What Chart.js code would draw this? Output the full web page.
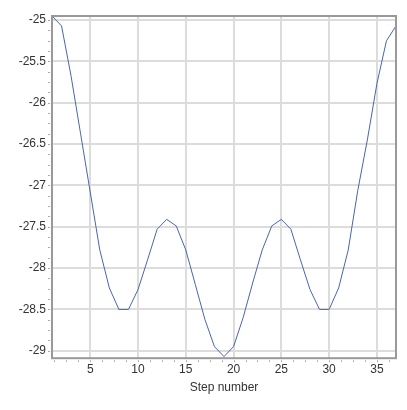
<!DOCTYPE html>
<html lang="en">
<head>
    <meta charset="UTF-8">
    <title>Step chart</title>
    <script src="https://cdn.jsdelivr.net/npm/chart.js@4.4.1/dist/chart.umd.min.js"></script>
    <style>
        * {
            margin: 0;
            padding: 0;
            box-sizing: border-box;
        }

        body {
            background: white;
        }

        .chart-container {
            width: 407px;
            height: 410px;
        }
    </style>
</head>
<body>
    <div class="chart-container">
        <canvas id="stepChart"></canvas>
    </div>

    <script>
        // Values
        const steps = [1, 2, 3, 4, 5, 6, 7, 8, 9, 10, 11, 12, 13, 14, 15, 16, 17, 18, 19,
            20, 21, 22, 23, 24, 25, 26, 27, 28, 29, 30, 31, 32, 33, 34, 35, 36, 37];
        const values = [-24.95, -25.07, -25.68, -26.38, -27.08, -27.78, -28.24, -28.5, -28.5,
            -28.26, -27.9, -27.53, -27.41, -27.49, -27.78, -28.2, -28.62, -28.95, -29.07,
            -28.95, -28.6, -28.18, -27.78, -27.49, -27.41, -27.53, -27.9, -28.26, -28.5,
            -28.5, -28.24, -27.78, -27.06, -26.45, -25.77, -25.25, -25.07];
        const xTicks = [5, 10, 15, 20, 25, 30, 35];
        const yTicks = [-29, -28.5, -28, -27.5, -27, -26.5, -26, -25.5, -25];

        const axisColor = '#999999';
        const gridColor = '#dcdcdc';
        const textColor = '#333333';

        // frame round the plot area and the small minor ticks outside it
        const framePlugin = {
            id: 'frame',
            afterDraw(chart) {
                const ctx = chart.ctx;
                const area = chart.chartArea;
                const xs = chart.scales.x;
                const ys = chart.scales.y;
                ctx.save();
                ctx.fillStyle = '#aaaaaa';
                for (let v = 1.25; v < xs.max; v += 1.25) {
                    const px = Math.round(xs.getPixelForValue(v));
                    ctx.fillRect(px, area.bottom + 2, 1, 2);
                }
                for (let v = -29; v <= ys.max; v += 0.125) {
                    const py = Math.round(ys.getPixelForValue(v));
                    ctx.fillRect(area.left - 4, py, 2, 1);
                }
                ctx.strokeStyle = axisColor;
                ctx.lineWidth = 2;
                ctx.strokeRect(area.left, area.top, area.right - area.left, area.bottom - area.top);
                ctx.restore();
            }
        };

        new Chart(document.getElementById('stepChart'), {
            type: 'line',
            data: {
                datasets: [{
                    data: steps.map((s, i) => ({ x: s, y: values[i] })),
                    borderColor: 'rgb(72, 102, 172)',
                    borderWidth: 1,
                    pointRadius: 0,
                    tension: 0,
                    clip: false
                }]
            },
            options: {
                responsive: true,
                maintainAspectRatio: false,
                animation: false,
                layout: {
                    padding: { top: 16, right: 11, bottom: 15, left: 0 }
                },
                plugins: {
                    legend: { display: false },
                    tooltip: { enabled: false }
                },
                scales: {
                    x: {
                        type: 'linear',
                        min: 1,
                        max: 37,
                        afterBuildTicks: scale => {
                            scale.ticks = xTicks.map(v => ({ value: v }));
                        },
                        ticks: {
                            color: textColor,
                            font: { family: 'Liberation Sans', size: 12 },
                            padding: 4,
                            maxRotation: 0,
                            callback: v => String(v)
                        },
                        grid: {
                            color: gridColor,
                            lineWidth: 2,
                            drawTicks: false
                        },
                        border: { display: false },
                        title: {
                            display: true,
                            text: 'Step number',
                            color: textColor,
                            font: { family: 'Liberation Sans', size: 12 },
                            padding: { top: 0, bottom: 0 }
                        }
                    },
                    y: {
                        min: -29.09,
                        max: -24.95,
                        afterBuildTicks: scale => {
                            scale.ticks = yTicks.map(v => ({ value: v }));
                        },
                        afterFit: scale => {
                            scale.width = 52;
                        },
                        ticks: {
                            color: textColor,
                            font: { family: 'Liberation Sans', size: 12 },
                            padding: 6,
                            callback: v => String(v)
                        },
                        grid: {
                            color: gridColor,
                            lineWidth: 2,
                            drawTicks: false
                        },
                        border: { display: false }
                    }
                }
            },
            plugins: [framePlugin]
        });
    </script>
</body>
</html>
